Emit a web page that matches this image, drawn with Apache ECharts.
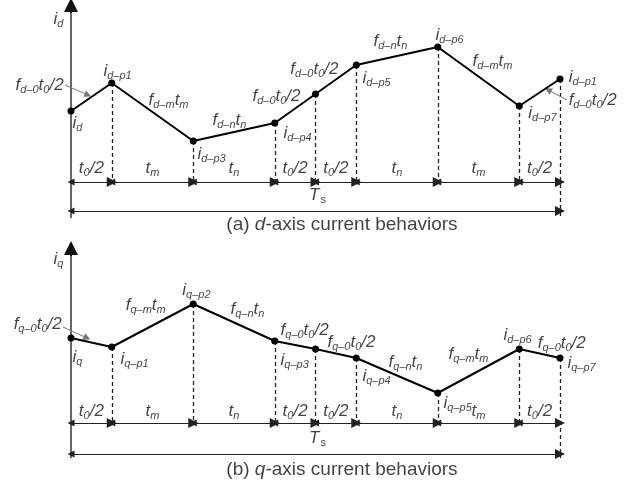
<!DOCTYPE html>
<html>
<head>
<meta charset="utf-8">
<script src="https://cdn.jsdelivr.net/npm/echarts@6/dist/echarts.min.js"></script>
<style>
  html, body { margin: 0; padding: 0; background: #fff; }
  #chart { width: 627px; height: 481px; }
</style>
</head>
<body>
<div id="chart"></div>
<script>
// Switching instants over one period Ts, in units of t0/2 (tm = tn = 2 units)
const times = [0, 1, 3, 5, 6, 7, 9, 11, 12];
const intervalNames = ['t_{0}/2', 't_{m}', 't_{n}', 't_{0}/2', 't_{0}/2', 't_{n}', 't_{m}', 't_{0}/2'];

// Current levels at each switching instant
const idValues = [71, 99, 41, 59, 88, 117, 135, 76, 103];
const iqValues = [85, 76, 119, 82, 74, 65, 30, 74, 65];

const periodName = 'T_[s]';
const captionA = '(a) {ci|d}-axis current behaviors';
const captionB = '(b) {ci|q}-axis current behaviors';

// Annotation text for each panel: [time, level, text]
const notesA = [
  [-0.44, 162, 'i_{d}'],
  [-1.374, 96, 'f_{d–0}t_{0}/2'],
  [0.025, 58, 'i_{d}'],
  [0.785, 110, 'i_{d–p1}'],
  [1.89, 81, 'f_{d–m}t_{m}'],
  [3.09, 27, 'i_{d–p3}'],
  [3.46, 61, 'f_{d–n}t_{n}'],
  [5.20, 48, 'i_{d–p4}'],
  [4.44, 85, 'f_{d–0}t_{0}/2'],
  [5.37, 112, 'f_{d–0}t_{0}/2'],
  [7.14, 103, 'i_{d–p5}'],
  [7.41, 140, 'f_{d–n}t_{n}'],
  [8.93, 146, 'i_{d–p6}'],
  [9.84, 120, 'f_{d–m}t_{m}'],
  [11.21, 68, 'i_{d–p7}'],
  [12.20, 104, 'i_{d–p1}'],
  [12.20, 81, 'f_{d–0}t_{0}/2']
];
const notesB = [
  [-0.44, 163, 'i_{q}'],
  [-1.42, 98, 'f_{q–0}t_{0}/2'],
  [0.025, 65, 'i_{q}'],
  [1.20, 63, 'i_{q–p1}'],
  [1.33, 117, 'f_{q–m}t_{m}'],
  [2.72, 132, 'i_{q–p2}'],
  [3.90, 113, 'f_{q–n}t_{n}'],
  [5.13, 92, 'f_{q–0}t_{0}/2'],
  [5.13, 62, 'i_{q–p3}'],
  [6.28, 80, 'f_{q–0}t_{0}/2'],
  [7.14, 46, 'i_{q–p4}'],
  [7.78, 60, 'f_{q–n}t_{n}'],
  [9.13, 19, 'i_{q–p5}'],
  [9.25, 68, 'f_{q–m}t_{m}'],
  [10.60, 87, 'i_{d–p6}'],
  [11.44, 79, 'f_{q–0}t_{0}/2'],
  [12.17, 59, 'i_{q–p7}']
];

// Small pointer arrows from the f·t0/2 notes to their segments
const pointersA = [[[-0.147, 97], [0.417, 87]], [[12.17, 82], [11.71, 92]]];
const pointersB = [[[-0.196, 96], [0.393, 85]]];

const FONT = 'Liberation Sans';

// "f_{d–0}t_{0}/2" -> rich text; _{..} italic subscript, _[..] upright subscript
function markup(str) {
  let out = '';
  const re = /_\{([^}]*)\}|_\[([^\]]*)\]/g;
  let last = 0, m;
  while ((m = re.exec(str)) !== null) {
    if (m.index > last) out += '{m|' + str.slice(last, m.index) + '}';
    out += m[1] !== undefined ? '{s|' + m[1] + '}' : '{su|' + m[2] + '}';
    last = re.lastIndex;
  }
  if (last < str.length) out += '{m|' + str.slice(last) + '}';
  return out;
}

const rich = {
  m: { fontFamily: FONT, fontStyle: 'italic', fontSize: 17, color: '#111', verticalAlign: 'top' },
  s: { fontFamily: FONT, fontStyle: 'italic', fontSize: 11, color: '#111', verticalAlign: 'top', padding: [8, 0, 0, 0] },
  su: { fontFamily: FONT, fontSize: 11, color: '#111', verticalAlign: 'top', padding: [8, 0, 0, 1] }
};

function panel(gi, values, notes, pointers, yBottom, periodY, captionY, caption) {
  const pts = times.map((t, i) => [t, values[i]]);
  const dashed = [];
  for (let i = 1; i < times.length; i++) {
    dashed.push({ coords: [[times[i], values[i]], [times[i], i === times.length - 1 ? yBottom : 0]] });
  }
  const spans = [];
  for (let i = 0; i < times.length - 1; i++) {
    spans.push({ coords: [[times[i], 0], [times[i + 1], 0]] });
  }
  const top = gi === 0 ? 177 : 175;
  const common = { xAxisIndex: gi, yAxisIndex: gi, silent: true, animation: false };
  const arrowHead = { symbol: ['triangle', 'triangle'], symbolSize: [7, 10], symbolOffset: [[0, 5], [0, 5]] };
  return [
    // vertical axis with arrow head
    Object.assign({
      type: 'lines', coordinateSystem: 'cartesian2d', clip: false, z: 3,
      symbol: ['none', 'none'],
      lineStyle: { color: '#666', width: 2, opacity: 1 },
      data: [{ coords: [[0, yBottom], [0, top - 6]] }]
    }, common),
    Object.assign({
      type: 'lines', coordinateSystem: 'cartesian2d', clip: false, z: 4,
      symbol: ['none', 'triangle'], symbolSize: [9, 14], symbolOffset: [[0, 0], [0, 7]],
      lineStyle: { color: '#111', width: 2, opacity: 1 },
      data: [{ coords: [[0, top - 8], [0, top]] }]
    }, common),
    // dashed drop lines
    Object.assign({
      type: 'lines', coordinateSystem: 'cartesian2d', clip: false, z: 2,
      symbol: ['none', 'none'],
      lineStyle: { color: '#222', width: 1.3, type: [4, 3], opacity: 1 },
      data: dashed
    }, common),
    // interval arrows
    Object.assign({
      type: 'lines', coordinateSystem: 'cartesian2d', clip: false, z: 3,
      lineStyle: { color: '#222', width: 1, opacity: 1 },
      data: spans
    }, arrowHead, common),
    // period arrow
    Object.assign({
      type: 'lines', coordinateSystem: 'cartesian2d', clip: false, z: 3,
      lineStyle: { color: '#222', width: 1, opacity: 1 },
      data: [{ coords: [[0, periodY], [12, periodY]] }]
    }, arrowHead, common),
    // pointer arrows
    Object.assign({
      type: 'lines', coordinateSystem: 'cartesian2d', clip: false, z: 3,
      symbol: ['none', 'triangle'], symbolSize: [5, 7], symbolOffset: [[0, 0], [0, 3.5]],
      lineStyle: { color: '#777', width: 1, opacity: 1 },
      data: pointers.map(c => ({ coords: c }))
    }, common),
    // current trajectory
    Object.assign({
      type: 'line', data: pts, z: 5,
      symbol: 'circle', symbolSize: 7, showSymbol: true,
      itemStyle: { color: '#000' },
      lineStyle: { color: '#000', width: 2 }
    }, common),
    // annotations anchored at their left edge
    Object.assign({
      type: 'scatter', clip: false, z: 6, symbolSize: 1,
      itemStyle: { color: 'rgba(0,0,0,0)' },
      label: { show: true, position: 'right', distance: 0, formatter: p => markup(p.name), rich: rich },
      data: notes.map(n => ({ name: n[2], value: [n[0], n[1]] }))
    }, common),
    // centred labels: intervals, period, caption
    Object.assign({
      type: 'scatter', clip: false, z: 6, symbolSize: 1,
      itemStyle: { color: 'rgba(0,0,0,0)' },
      label: { show: true, position: 'inside', formatter: p => markup(p.name), rich: rich },
      data: intervalNames.map((n, i) => ({ name: n, value: [(times[i] + times[i + 1]) / 2, gi === 0 ? 13 : 11] }))
        .concat([{ name: periodName, value: [6.05, periodY + 15] }])
    }, common),
    Object.assign({
      type: 'scatter', clip: false, z: 6, symbolSize: 1,
      itemStyle: { color: 'rgba(0,0,0,0)' },
      label: {
        show: true, position: 'inside', formatter: caption,
        fontFamily: FONT, fontSize: 19, color: '#111',
        rich: { ci: { fontFamily: FONT, fontStyle: 'italic', fontSize: 19, color: '#111' } }
      },
      data: [{ name: 'caption', value: [6.65, captionY] }]
    }, common)
  ];
}

const chart = echarts.init(document.getElementById('chart'), null, { renderer: 'canvas' });
chart.setOption({
  backgroundColor: '#fff',
  animation: false,
  grid: [
    { left: 71, top: 5, width: 489, height: 213 },
    { left: 71, top: 248, width: 489, height: 210 }
  ],
  xAxis: [
    { gridIndex: 0, type: 'value', min: 0, max: 12, show: false },
    { gridIndex: 1, type: 'value', min: 0, max: 12, show: false }
  ],
  yAxis: [
    { gridIndex: 0, type: 'value', min: -36, max: 177, show: false },
    { gridIndex: 1, type: 'value', min: -35, max: 175, show: false }
  ],
  series: [].concat(
    panel(0, idValues, notesA, pointersA, -36, -29, -43, captionA),
    panel(1, iqValues, notesB, pointersB, -35, -31, -47, captionB)
  )
});
</script>
</body>
</html>
